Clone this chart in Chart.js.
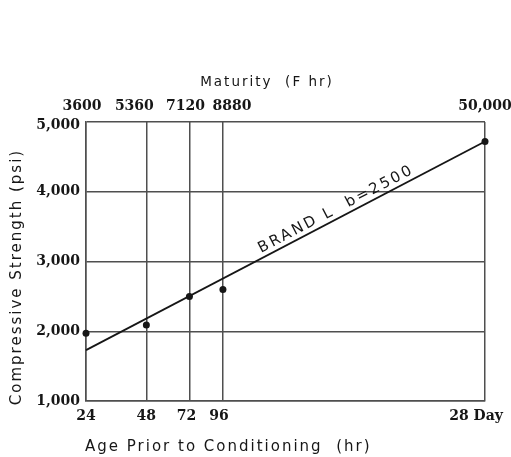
<!DOCTYPE html>
<html>
<head>
<meta charset="utf-8">
<script src="https://cdn.jsdelivr.net/npm/chart.js@4/dist/chart.umd.min.js"></script>
<style>
  html, body { margin: 0; padding: 0; background: #fff; }
  canvas { display: block; }
</style>
</head>
<body>
<canvas id="c" width="511" height="457"></canvas>
<script>
// Maturity (F hr) reached at each test age; x is plotted on a log scale
const maturity = [3600, 5360, 7120, 8880, 50000];
const maturityLabels = ['3600', '5360', '7120', '8880', '50,000'];
const ageLabels = ['24', '48', '72', '96', '28 Day'];

// Measured compressive strength (psi) at each age
const strength = [1970, 2090, 2500, 2600, 4720];

// Fitted strength-maturity line for Brand L
const fitMaturity = [3600, 50000];
const fitStrength = [1730, 4720];
const fitLabel = 'BRAND L  b=2500';
const fitLabelAt = 11600;

// Strength axis
const strengthTicks = [1000, 2000, 3000, 4000, 5000];
const strengthTickLabels = ['1,000', '2,000', '3,000', '4,000', '5,000'];

const ink = '#161616';
const gridColor = '#4f4f4f';
const tickFont = { family: '"DejaVu Serif", serif', size: 14, weight: 'bold' };

// small horizontal/vertical shifts of individual tick labels
const labelNudge = {
  x:  { dx: [0, 0, -3, -4, -9] },
  x2: { dx: [-4, -12, -4, 9, 0] },
  y:  { dy: [0, 0, 0, 0, 3] }
};

const nudgeLabels = {
  id: 'nudgeLabels',
  beforeDraw(chart) {
    for (const id of Object.keys(labelNudge)) {
      const scale = chart.scales[id];
      if (!scale) continue;
      const items = scale.getLabelItems(chart.chartArea);
      if (items._nudged) continue;
      const n = labelNudge[id];
      items.forEach((it, i) => {
        if (n.dx) it.options.translation[0] += n.dx[i] || 0;
        if (n.dy) it.options.translation[1] += n.dy[i] || 0;
      });
      items._nudged = true;
    }
  }
};

// axis titles, letter-spaced
const axisTitles = {
  id: 'axisTitles',
  afterDraw(chart) {
    const { ctx, chartArea: a } = chart;
    ctx.save();
    ctx.fillStyle = ink;
    ctx.textBaseline = 'alphabetic';
    ctx.letterSpacing = '2px';

    ctx.font = '13.5px "DejaVu Sans", sans-serif';
    ctx.textAlign = 'center';
    ctx.fillText('Maturity  (F hr)', a.left + 181, a.top - 36);

    ctx.font = '15px "DejaVu Sans", sans-serif';
    ctx.textAlign = 'left';
    ctx.fillText('Age Prior to Conditioning  (hr)', a.left - 1, a.bottom + 50);

    ctx.translate(a.left - 65, a.top + 155);
    ctx.rotate(-Math.PI / 2);
    ctx.textAlign = 'center';
    ctx.fillText('Compressive Strength (psi)', 0, 0);
    ctx.restore();
  }
};

// label written along the fitted line
const fitLineLabel = {
  id: 'fitLineLabel',
  afterDatasetsDraw(chart) {
    const { ctx } = chart;
    const xs = chart.scales.x, ys = chart.scales.y;
    const x0 = xs.getPixelForValue(fitMaturity[0]), y0 = ys.getPixelForValue(fitStrength[0]);
    const x1 = xs.getPixelForValue(fitMaturity[1]), y1 = ys.getPixelForValue(fitStrength[1]);
    const t = Math.log(fitLabelAt / fitMaturity[0]) / Math.log(fitMaturity[1] / fitMaturity[0]);
    const v = fitStrength[0] + (fitStrength[1] - fitStrength[0]) * t;
    const px = xs.getPixelForValue(fitLabelAt), py = ys.getPixelForValue(v);
    ctx.save();
    ctx.translate(px, py);
    ctx.rotate(Math.atan2(y1 - y0, x1 - x0));
    ctx.fillStyle = ink;
    ctx.letterSpacing = '2.5px';
    ctx.font = '15px "DejaVu Sans", sans-serif';
    ctx.textAlign = 'left';
    ctx.textBaseline = 'alphabetic';
    ctx.fillText(fitLabel, 0, -5);
    ctx.restore();
  }
};

const logAxis = (position, labels, size, extra) => Object.assign({
  type: 'logarithmic',
  position,
  min: maturity[0],
  max: maturity[maturity.length - 1],
  afterBuildTicks: s => { s.ticks = maturity.map(v => ({ value: v })); },
  afterFit: s => { s.height = size; s.paddingLeft = 0; s.paddingRight = 0; },
  ticks: {
    autoSkip: false, maxRotation: 0, minRotation: 0, padding: 7,
    color: ink, font: tickFont,
    callback: (v, i) => labels[i]
  }
}, extra);

new Chart(document.getElementById('c'), {
  type: 'scatter',
  data: {
    datasets: [
      {
        label: 'Measured',
        data: maturity.map((m, i) => ({ x: m, y: strength[i] })),
        xAxisID: 'x', yAxisID: 'y',
        pointRadius: 3.5,
        pointBackgroundColor: ink,
        pointBorderWidth: 0,
        showLine: false,
        clip: false
      },
      {
        label: 'Brand L',
        data: fitMaturity.map((m, i) => ({ x: m, y: fitStrength[i] })),
        xAxisID: 'x', yAxisID: 'y',
        showLine: true,
        borderColor: ink,
        borderWidth: 1.8,
        pointRadius: 0,
        clip: false
      }
    ]
  },
  options: {
    responsive: false,
    animation: false,
    devicePixelRatio: 1,
    layout: { padding: { left: 0, right: 26, top: 0, bottom: 0 } },
    plugins: { legend: { display: false }, tooltip: { enabled: false } },
    scales: {
      x: logAxis('bottom', ageLabels, 56, {
        grid: { color: gridColor, lineWidth: 1.5, drawTicks: false },
        border: { display: true, color: gridColor, width: 1.5 }
      }),
      x2: logAxis('top', maturityLabels, 122, {
        grid: { display: false, drawTicks: false },
        border: { display: false }
      }),
      y: {
        type: 'linear',
        position: 'left',
        min: strengthTicks[0],
        max: strengthTicks[strengthTicks.length - 1],
        afterBuildTicks: s => { s.ticks = strengthTicks.map(v => ({ value: v })); },
        ticks: {
          padding: 6, color: ink, font: tickFont,
          callback: (v, i) => strengthTickLabels[i]
        },
        grid: { color: gridColor, lineWidth: 1.5, drawTicks: false },
        border: { display: true, color: gridColor, width: 1.5 },
        afterFit: s => { s.width = 86; }
      }
    }
  },
  plugins: [nudgeLabels, fitLineLabel, axisTitles]
});
</script>
</body>
</html>
